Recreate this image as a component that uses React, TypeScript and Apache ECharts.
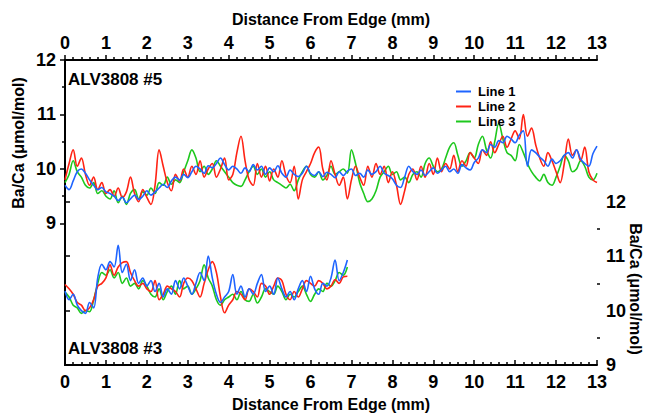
import React, { useEffect, useRef } from "react";
import * as echarts from "echarts";

const STEP = 0.1;
const FONT = "'Liberation Sans', Arial, sans-serif";

// ALV3808 #5 (left axis), x = 0..13 mm every 0.1 mm
const upperLine1 = [
  9.70, 9.62, 9.78, 9.95, 10.00, 9.92, 9.80, 9.70, 9.62, 9.66, 9.58,
  9.55, 9.50, 9.42, 9.48, 9.38, 9.45, 9.52, 9.44, 9.50, 9.60,
  9.52, 9.58, 9.65, 9.72, 9.66, 9.78, 9.85, 9.80, 9.90, 9.84,
  9.95, 10.05, 10.00, 9.92, 10.06, 10.02, 10.10, 10.20, 10.08, 9.98,
  10.05, 10.00, 9.92, 10.02, 9.95, 10.08, 9.98, 10.05, 9.90, 10.02,
  9.95, 10.06, 9.92, 9.85, 9.98, 9.90, 9.86, 9.92, 10.05, 9.92,
  9.88, 9.95, 9.86, 9.94, 9.90, 9.84, 9.95, 9.88, 9.96, 10.00,
  9.88, 9.92, 9.85, 9.98, 9.90, 9.95, 10.05, 9.92, 9.88, 9.82,
  9.70, 9.66, 9.85, 10.05, 9.95, 9.90, 9.98, 9.88, 9.95, 10.02,
  9.92, 9.98, 10.05, 9.95, 10.00, 9.92, 10.08, 10.02, 9.98, 10.12,
  10.20, 10.35, 10.30, 10.45, 10.40, 10.52, 10.48, 10.60, 10.55, 10.48,
  10.62, 10.70, 10.05, 10.35, 10.30, 10.22, 10.15, 10.05, 10.18, 10.10,
  10.15, 10.25, 10.30, 10.20, 10.35, 10.18, 10.10, 10.05, 10.28, 10.42,
];
const upperLine2 = [
  9.80, 10.10, 10.35, 10.05, 10.20, 9.90, 9.70, 9.85, 9.62, 9.75, 9.55,
  9.62, 9.50, 9.65, 9.48, 9.58, 9.85, 9.55, 9.40, 9.62, 9.48,
  9.35, 9.70, 10.35, 10.05, 9.75, 9.60, 9.90, 9.78, 10.00, 9.85,
  10.05, 9.90, 10.15, 9.85, 10.00, 10.10, 9.85, 10.00, 10.20, 9.80,
  9.90, 10.30, 10.60, 10.15, 9.80, 9.70, 10.10, 9.85, 10.05, 9.78,
  10.00, 9.85, 10.15, 9.88, 9.75, 10.05, 9.45, 9.80, 9.95, 10.10,
  10.30, 10.40, 10.00, 9.80, 10.15, 9.90, 9.70, 9.85, 9.45, 9.80,
  10.05, 9.85, 9.70, 10.05, 9.85, 10.10, 9.90, 10.05, 9.75, 9.95,
  9.70, 9.35, 9.60, 9.90, 10.00, 9.80, 10.05, 9.85, 10.10, 9.90,
  10.20, 9.95, 10.10, 10.00, 10.25, 9.95, 10.15, 10.05, 10.30, 10.20,
  10.10, 10.35, 10.25, 10.50, 10.30, 10.45, 10.60, 10.40, 10.55, 10.70,
  10.55, 11.00, 10.60, 10.75, 10.45, 10.20, 10.05, 10.30, 10.15, 9.95,
  9.75, 10.10, 10.55, 10.25, 10.35, 10.15, 10.40, 9.95, 9.80, 9.75,
];
const upperLine3 = [
  9.75, 9.90, 10.15, 9.95, 9.85, 9.70, 9.65, 9.75, 9.55, 9.60, 9.50,
  9.45, 9.60, 9.38, 9.50, 9.35, 9.55, 9.62, 9.45, 9.58, 9.52,
  9.65, 9.55, 9.75, 9.70, 9.85, 9.72, 9.80, 9.75, 9.95, 10.15,
  10.35, 10.20, 9.95, 10.05, 9.90, 10.00, 10.15, 10.05, 9.95, 9.85,
  9.75, 9.70, 9.68, 9.80, 9.95, 10.05, 9.90, 10.00, 9.85, 9.95,
  9.80, 9.75, 9.70, 9.65, 9.72, 9.60, 9.80, 9.95, 10.05, 9.90,
  9.85, 9.95, 9.80, 9.88, 10.05, 9.90, 9.95, 10.00, 9.92, 10.35,
  10.10, 9.75, 9.55, 9.40, 9.45, 9.60, 9.85, 9.95, 10.05, 9.90,
  9.95, 9.80, 9.85, 9.75, 9.90, 9.95, 9.85, 10.10, 10.20, 10.05,
  9.95, 10.00, 10.20, 10.40, 10.48, 10.25, 10.05, 10.15, 10.30, 10.20,
  10.45, 10.60, 10.35, 10.20, 10.50, 10.84, 10.55, 10.30, 10.25, 10.15,
  10.45, 10.30, 10.10, 9.95, 9.85, 9.78, 9.90, 9.75, 9.70, 9.85,
  10.05, 10.25, 10.15, 9.95, 10.00, 10.15, 10.05, 9.85, 9.80, 9.92,
];

// ALV3808 #3 (right axis), x = 0..6.9 mm every 0.1 mm
const lowerLine1 = [
  10.36, 10.20, 10.30, 10.10, 10.00, 9.95, 10.15, 10.05, 10.60, 10.85, 10.75,
  10.90, 10.80, 11.20, 10.70, 10.85, 10.55, 10.75, 10.50, 10.60, 10.45,
  10.55, 10.35, 10.50, 10.25, 10.40, 10.30, 10.55, 10.40, 10.60, 10.45,
  10.30, 10.50, 10.70, 10.55, 11.00, 10.60, 10.30, 10.15, 10.25, 10.35,
  10.66, 10.30, 10.45, 10.25, 10.40, 10.30, 10.50, 10.66, 10.35, 10.45,
  10.30, 10.60, 10.40, 10.25, 10.35, 10.20, 10.40, 10.55, 10.35, 10.63,
  10.40, 10.30, 10.50, 10.45, 10.60, 10.93, 10.55, 10.70, 10.93,
];
const lowerLine2 = [
  10.48, 10.40, 10.30, 10.15, 10.10, 10.00, 10.05, 10.20, 10.45, 10.50, 10.60,
  10.84, 10.65, 10.80, 10.88, 10.90, 10.70, 10.55, 10.45, 10.50, 10.40,
  10.35, 10.55, 10.20, 10.30, 10.45, 10.40, 10.35, 10.25, 10.50, 10.60,
  10.55, 10.40, 10.25, 10.50, 10.75, 10.90, 10.70, 10.25, 9.96, 10.10,
  10.20, 10.35, 10.30, 10.20, 10.40, 10.35, 10.25, 10.50, 10.45, 10.30,
  10.45, 10.60, 10.55, 10.30, 10.20, 10.35, 10.25, 10.40, 10.55, 10.50,
  10.45, 10.55, 10.50, 10.40, 10.45, 10.57, 10.50, 10.62, 10.63,
];
const lowerLine3 = [
  10.34, 10.25, 10.10, 10.05, 9.95, 10.00, 9.98, 10.20, 10.50, 10.70, 10.65,
  10.75, 10.60, 10.70, 10.50, 10.60, 10.45, 10.50, 10.40, 10.55, 10.45,
  10.30, 10.25, 10.40, 10.20, 10.35, 10.45, 10.30, 10.55, 10.40, 10.45,
  10.30, 10.40, 10.55, 10.84, 10.60, 10.45, 10.20, 10.10, 10.20, 10.25,
  10.30, 10.20, 10.35, 10.20, 10.17, 10.30, 10.14, 10.25, 10.40, 10.35,
  10.30, 10.45, 10.35, 10.20, 10.30, 10.25, 10.35, 10.45, 10.30, 10.17,
  10.30, 10.40, 10.35, 10.50, 10.45, 10.55, 10.70, 10.65, 10.80,
];

const seriesNames = ["Line 1", "Line 2", "Line 3"];
const seriesColors = ["#1e64ff", "#ff2314", "#1ec81e"];
const xTicks = [0, 13];
const leftLabels = [9, 10, 11, 12];
const leftHalfTicks = [9.5, 10.5, 11.5];
const rightLabels = [9, 10, 11, 12];
const rightHalfTicks = [9.5, 10.5, 11.5];
const panelLabels = ["ALV3808 #5", "ALV3808 #3"];
const axisTitleX = "Distance From Edge (mm)";
const axisTitleY = "Ba/Ca (μmol/mol)";

const toPairs = (vals: number[]) => vals.map((v, i) => [+(i * STEP).toFixed(2), v]);

export default function App() {
  const ref = useRef<HTMLDivElement>(null);
  useEffect(() => {
    if (!ref.current) return;
    const chart = echarts.init(ref.current, null, { renderer: "svg" });
    const lbl = { fontFamily: FONT, fontWeight: "bold" as const, fontSize: 18, color: "#000" };
    const axisLine = { show: true, lineStyle: { color: "#000", width: 2 } };
    const xCommon = {
      type: "value" as const,
      min: xTicks[0],
      max: xTicks[1],
      interval: 1,
      splitLine: { show: false },
      axisLine,
      minorTick: { show: true, splitNumber: 5, length: 3, lineStyle: { color: "#000", width: 1.5 } },
      name: axisTitleX,
      nameLocation: "middle" as const,
      nameTextStyle: { fontFamily: FONT, fontWeight: "bold" as const, fontSize: 16, color: "#000" },
    };
    const upperSeries = [upperLine1, upperLine2, upperLine3];
    const lowerSeries = [lowerLine1, lowerLine2, lowerLine3];
    const series: any[] = [];
    [2, 1, 0].forEach((k) => {
      series.push({
        type: "line",
        name: seriesNames[k],
        xAxisIndex: 0,
        yAxisIndex: 0,
        data: toPairs(upperSeries[k]),
        showSymbol: false,
        smooth: 0.35,
        lineStyle: { color: seriesColors[k], width: 1.6 },
        itemStyle: { color: seriesColors[k] },
      });
      series.push({
        type: "line",
        name: seriesNames[k],
        xAxisIndex: 0,
        yAxisIndex: 1,
        data: toPairs(lowerSeries[k]),
        showSymbol: false,
        smooth: 0.35,
        lineStyle: { color: seriesColors[k], width: 1.6 },
        itemStyle: { color: seriesColors[k] },
      });
    });
    chart.setOption({
      animation: false,
      backgroundColor: "#fff",
      grid: { left: 65, right: 52, top: 60, bottom: 44, containLabel: false },
      legend: {
        data: seriesNames,
        orient: "vertical",
        left: 451,
        top: 80,
        icon: "rect",
        itemWidth: 15,
        itemHeight: 2,
        itemGap: 2,
        textStyle: { fontFamily: FONT, fontWeight: "bold", fontSize: 13, color: "#000", padding: [0, 0, 0, 2] },
      },
      xAxis: [
        {
          ...xCommon,
          position: "bottom",
          axisTick: { show: true, inside: true, length: 5, lineStyle: { color: "#000", width: 1.5 } },
          axisLabel: { ...lbl, margin: 8 },
          nameGap: 30,
        },
        {
          ...xCommon,
          position: "top",
          axisTick: { show: true, inside: false, length: 5, lineStyle: { color: "#000", width: 1.5 } },
          axisLabel: { ...lbl, margin: 8 },
          nameGap: 33,
        },
      ],
      yAxis: [
        {
          type: "value",
          position: "left",
          min: 6.4,
          max: 12,
          splitLine: { show: false },
          axisLine,
          axisTick: { show: true, customValues: leftLabels, length: 5, lineStyle: { color: "#000", width: 1.5 } },
          axisLabel: { ...lbl, customValues: leftLabels, margin: 9 },
        },
        {
          type: "value",
          position: "right",
          min: 9,
          max: 14.6,
          splitLine: { show: false },
          axisLine,
          axisTick: { show: true, customValues: rightLabels, length: 5, lineStyle: { color: "#000", width: 1.5 } },
          axisLabel: { ...lbl, customValues: rightLabels, margin: 9 },
        },
        {
          type: "value",
          position: "left",
          min: 6.4,
          max: 12,
          splitLine: { show: false },
          axisLine: { show: false },
          axisTick: { show: true, customValues: leftHalfTicks, length: 3, lineStyle: { color: "#000", width: 1.5 } },
          axisLabel: { show: false },
        },
        {
          type: "value",
          position: "right",
          min: 9,
          max: 14.6,
          splitLine: { show: false },
          axisLine: { show: false },
          axisTick: { show: true, customValues: rightHalfTicks, length: 3, lineStyle: { color: "#000", width: 1.5 } },
          axisLabel: { show: false },
        },
      ],
      graphic: [
        {
          type: "text",
          x: 18,
          y: 143,
          rotation: Math.PI / 2,
          style: { text: axisTitleY, font: `bold 16px ${FONT}`, fill: "#000", textAlign: "center", textVerticalAlign: "middle" },
        },
        {
          type: "text",
          x: 635,
          y: 289,
          rotation: -Math.PI / 2,
          style: { text: axisTitleY, font: `bold 16px ${FONT}`, fill: "#000", textAlign: "center", textVerticalAlign: "middle" },
        },
        {
          type: "text",
          x: 68,
          y: 79,
          style: { text: panelLabels[0], font: `bold 17px ${FONT}`, fill: "#000", textAlign: "left", textVerticalAlign: "middle" },
        },
        {
          type: "text",
          x: 68,
          y: 348,
          style: { text: panelLabels[1], font: `bold 17px ${FONT}`, fill: "#000", textAlign: "left", textVerticalAlign: "middle" },
        },
      ],
      series,
    });
    return () => chart.dispose();
  }, []);
  return <div ref={ref} style={{ position: "fixed", left: 0, top: 0, width: 649, height: 417 }} />;
}
